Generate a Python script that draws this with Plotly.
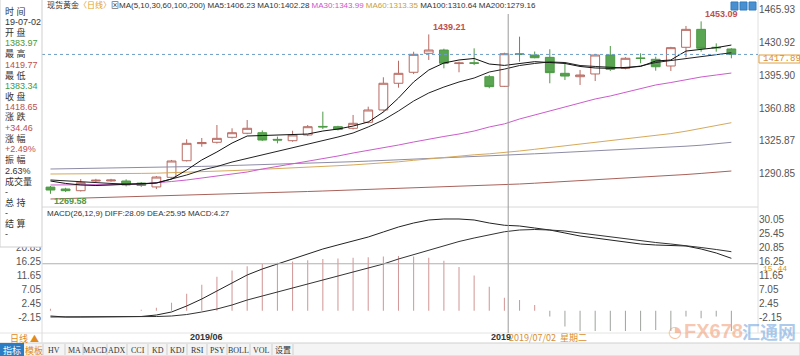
import plotly.graph_objects as go

# ---------------- data ----------------
dates = ["2019-05-21","2019-05-22","2019-05-23","2019-05-24","2019-05-27","2019-05-28","2019-05-29","2019-05-30","2019-05-31",
         "2019-06-03","2019-06-04","2019-06-05","2019-06-06","2019-06-07","2019-06-10","2019-06-11","2019-06-12","2019-06-13",
         "2019-06-14","2019-06-17","2019-06-18","2019-06-19","2019-06-20","2019-06-21","2019-06-24","2019-06-25","2019-06-26",
         "2019-06-27","2019-06-28","2019-07-01","2019-07-02","2019-07-03","2019-07-04","2019-07-05","2019-07-08","2019-07-09",
         "2019-07-10","2019-07-11","2019-07-12","2019-07-15","2019-07-16","2019-07-17","2019-07-18","2019-07-19","2019-07-22",
         "2019-07-23"]
open_ = [1276.7,1274.7,1272.9,1283.2,1283.3,1283.2,1281.0,1276.9,1287.1,1304.8,1323.0,1324.4,1329.7,1334.0,1334.6,1327.5,
         1326.1,1332.2,1341.3,1341.0,1339.3,1345.7,1358.8,1387.2,1398.9,1419.1,1422.6,1408.2,1409.0,1394.2,1383.97,1418.5,
         1417.3,1414.8,1397.8,1394.2,1397.1,1417.3,1403.1,1414.2,1412.7,1405.6,1425.5,1444.6,1425.5,1423.7]
high = [1277.9,1276.0,1285.3,1285.5,1285.5,1285.0,1282.0,1288.5,1305.6,1327.6,1329.0,1342.8,1339.3,1348.1,1337.0,1330.4,
        1336.7,1342.8,1357.0,1342.0,1353.5,1362.3,1393.6,1411.2,1420.8,1439.21,1424.0,1410.2,1424.4,1396.0,1419.77,1436.8,
        1421.0,1423.4,1408.5,1401.4,1418.5,1426.9,1415.0,1419.1,1415.5,1426.0,1448.2,1453.09,1429.7,1424.5]
low = [1269.58,1271.5,1272.0,1282.0,1282.5,1277.5,1277.0,1274.7,1286.0,1304.0,1319.7,1323.0,1328.5,1333.0,1325.8,1323.3,
       1325.0,1331.0,1338.5,1337.0,1338.0,1344.5,1357.0,1382.5,1397.0,1412.0,1403.1,1398.9,1406.6,1381.9,1383.34,1410.2,
       1413.8,1387.2,1390.7,1385.4,1389.6,1400.3,1402.0,1408.5,1400.6,1400.3,1414.8,1420.8,1420.8,1413.8]
close = [1273.6,1272.9,1281.4,1284.0,1284.2,1279.0,1278.6,1287.4,1304.5,1323.3,1324.0,1328.6,1334.6,1339.3,1326.8,1326.8,
         1332.2,1341.0,1340.8,1338.2,1344.6,1358.8,1387.2,1397.8,1418.0,1422.6,1408.5,1408.8,1408.5,1383.6,1418.65,1418.0,
         1414.4,1398.5,1394.9,1396.0,1417.3,1402.1,1413.8,1413.6,1404.8,1425.1,1444.6,1424.4,1425.0,1417.89]

ma5 = [1283.2,1280.6,1279.0,1278.4,1279.0,1279.5,1280.0,1281.1,1285.3,1294.9,1305.6,1314.1,1323.6,1331.1,1331.6,1332.2,
       1332.7,1333.2,1336.4,1338.5,1341.7,1346.0,1356.6,1371.5,1388.6,1401.3,1408.8,1412.0,1413.6,1407.7,1406.23,1408.5,
       1410.2,1409.3,1408.3,1405.1,1403.5,1403.1,1404.0,1405.1,1410.9,1412.0,1421.5,1423.4,1425.1,1427.9]
ma10 = [1284.3,1283.2,1282.1,1281.1,1280.6,1280.0,1280.0,1281.1,1285.3,1289.6,1294.9,1298.6,1303.4,1307.1,1310.9,1314.6,
        1318.3,1322.6,1326.3,1330.0,1334.3,1340.7,1348.1,1357.7,1368.3,1376.9,1383.2,1388.6,1392.8,1399.2,1402.28,1406.1,
        1408.3,1409.9,1409.3,1406.1,1405.1,1404.0,1403.4,1405.6,1409.3,1411.4,1413.6,1415.2,1417.3,1419.7]
ma30 = [1278.96,1278.96,1278.96,1278.96,1279.17,1279.49,1280.02,1281.08,1282.68,1284.27,1286.40,1288.53,1290.66,1292.79,
        1295.98,1298.64,1301.30,1304.49,1307.15,1309.82,1313.0,1315.7,1318.9,1321.5,1324.7,1327.9,1330.6,1333.2,1336.4,
        1340.7,1343.99,1349.2,1353.4,1357.7,1361.9,1366.2,1370.5,1373.7,1377.4,1381.1,1385.4,1388.0,1391.2,1393.9,1396.0,1398.1]
ma60 = [1290.66,1290.66,1290.66,1290.87,1291.08,1291.19,1291.30,1291.51,1291.94,1292.47,1293.0,1293.64,1294.28,1294.92,
        1295.55,1296.19,1296.94,1297.79,1298.64,1299.49,1300.34,1301.30,1302.37,1303.64,1305.24,1306.83,1308.43,1309.81,
        1311.09,1312.16,1313.35,1315.14,1316.94,1318.75,1320.46,1322.16,1323.86,1325.67,1327.48,1329.40,1331.42,1333.65,
        1336.21,1338.97,1341.95,1345.25]
ma100 = [1295.98,1296.19,1296.40,1296.62,1296.83,1297.04,1297.36,1297.68,1298.0,1298.32,1298.75,1299.17,1299.60,1300.02,
         1300.45,1300.98,1301.51,1302.05,1302.58,1303.11,1303.75,1304.39,1305.03,1305.77,1306.52,1307.26,1308.11,1308.86,
         1309.60,1310.14,1310.64,1311.41,1312.15,1312.90,1313.64,1314.39,1315.13,1315.88,1316.73,1317.58,1318.43,1319.28,
         1320.24,1321.30,1322.69,1324.39]
ma200 = [1264.05,1264.48,1264.90,1265.33,1265.75,1266.18,1266.60,1267.03,1267.45,1267.88,1268.31,1268.84,1269.37,1269.90,
         1270.44,1270.97,1271.50,1272.03,1272.57,1273.10,1273.63,1274.16,1274.70,1275.23,1275.76,1276.40,1277.04,1277.68,
         1278.21,1278.74,1279.16,1280.01,1280.86,1281.72,1282.57,1283.42,1284.27,1285.12,1285.98,1286.93,1287.89,1288.95,
         1290.12,1291.29,1292.57,1293.85]

diff = [-1.73,-2.06,-2.06,-2.06,-2.06,-2.06,-1.89,-1.40,-0.41,1.56,3.86,6.49,9.12,11.75,13.72,15.36,17.00,18.65,20.29,
        21.62,22.92,24.23,25.88,27.52,28.83,29.82,30.15,30.15,29.82,28.83,28.09,27.85,27.19,26.53,25.55,24.56,23.90,23.25,
        22.59,21.93,21.60,21.44,21.27,20.29,18.97,17.23]
dea = [-2.06,-2.06,-2.06,-2.06,-2.06,-2.06,-2.06,-1.90,-1.73,-1.24,-0.41,0.57,1.89,3.53,4.84,6.16,7.47,8.79,10.10,11.42,
       12.73,14.05,15.36,17.00,18.48,19.96,21.44,22.75,23.90,24.89,25.95,26.53,26.70,26.53,26.20,25.55,24.89,24.23,23.57,
       22.92,22.42,21.93,21.44,20.78,20.12,19.40]
macd = [0.66,0.0,0.0,0.0,0.0,0.0,0.34,1.0,2.64,5.6,8.54,11.2,13.2,14.6,15.4,15.8,16.2,16.6,17.0,17.2,17.4,17.6,
        17.8,18.0,17.8,17.4,16.4,14.4,11.6,7.88,4.27,3.5,1.9,-1.9,-5.2,-7.0,-7.0,-7.0,-7.0,-7.0,-6.3,-7.0,-1.9,
        -2.5,-1.9,-7.0]

price_ticks = [1465.93, 1430.92, 1395.90, 1360.88, 1325.87, 1290.85]
macd_ticks = [30.05, 25.45, 20.85, 16.25, 11.65, 7.05, 2.45, -2.15]
last_price = 1417.89
cursor_macd = 15.44

# ---------------- figure ----------------
W, H = 800, 356
ML, MR, MT, MB = 42, 42, 3, 23
PW, PH = W - ML - MR, H - MT - MB

def px(x):  # pixel x -> paper
    return (x - ML) / PW

def py(y):  # pixel y -> paper
    return (H - MB - y) / PH

fig = go.Figure()

sans = "Liberation Sans, Noto Sans CJK SC, sans-serif"
cjk = "Noto Sans CJK SC, DejaVu Sans, sans-serif"

ma_specs = [(ma200, "#a8625a"), (ma100, "#8d8ca6"), (ma60, "#d6a95a"), (ma30, "#cc5ccc"),
            (ma10, "#222222"), (ma5, "#111111")]
for vals, col in ma_specs:
    fig.add_trace(go.Scatter(x=dates, y=vals, mode="lines", line=dict(color=col, width=1),
                             xaxis="x", yaxis="y", hoverinfo="skip", showlegend=False))

fig.add_trace(go.Candlestick(
    x=dates, open=open_, high=high, low=low, close=close,
    increasing=dict(line=dict(color="#b86a62", width=1), fillcolor="#ffffff"),
    decreasing=dict(line=dict(color="#4e9a46", width=1), fillcolor="#5aa552"),
    whiskerwidth=0, xaxis="x", yaxis="y", showlegend=False, hoverinfo="skip"))

bar_cols = ["#d49a9a" if v >= 0 else "#a3a8a3" for v in macd]
fig.add_trace(go.Bar(x=dates, y=macd, width=0.07, marker=dict(color=bar_cols, line=dict(width=0)),
                     xaxis="x2", yaxis="y2", showlegend=False, hoverinfo="skip"))
fig.add_trace(go.Scatter(x=dates, y=diff, mode="lines", line=dict(color="#222222", width=1),
                         xaxis="x2", yaxis="y2", showlegend=False, hoverinfo="skip"))
fig.add_trace(go.Scatter(x=dates, y=dea, mode="lines", line=dict(color="#333333", width=1),
                         xaxis="x2", yaxis="y2", showlegend=False, hoverinfo="skip"))
fig.add_trace(go.Scatter(x=dates[:1], y=[macd_ticks[0]], mode="markers", marker=dict(opacity=0),
                         xaxis="x2", yaxis="y3", showlegend=False, hoverinfo="skip"))

xr = [-0.56, 46.76]
main_dom = [py(207), py(3)]
macd_dom = [py(331), py(208)]
p_lo, p_hi = 1475.83 - 1.0642 * 207, 1475.83 - 1.0642 * 3
m_lo, m_hi = 102.11 - 0.3286 * 331, 102.11 - 0.3286 * 208

axfont = dict(family="Liberation Sans, Arial, sans-serif", size=10, color="#555555")
fig.update_layout(
    width=W, height=H, margin=dict(l=ML, r=MR, t=MT, b=MB),
    paper_bgcolor="white", plot_bgcolor="white", boxgap=0.17,
    xaxis=dict(type="category", range=xr, domain=[0, 1], anchor="y", showticklabels=False,
               showgrid=False, zeroline=False, rangeslider=dict(visible=False), fixedrange=True),
    xaxis2=dict(type="category", range=xr, domain=[0, 1], anchor="y2", showticklabels=False,
                showgrid=False, zeroline=False, matches="x"),
    yaxis=dict(domain=main_dom, range=[p_lo, p_hi], side="right", tickvals=price_ticks,
               ticktext=[f"{v:.2f}" for v in price_ticks], showgrid=False, zeroline=False,
               tickfont=axfont, ticks="", anchor="x"),
    yaxis2=dict(domain=macd_dom, range=[m_lo, m_hi], side="right", tickvals=macd_ticks,
                ticktext=[f"{v:.2f}" for v in macd_ticks], showgrid=False, zeroline=False,
                tickfont=axfont, ticks="", anchor="x2"),
    yaxis3=dict(domain=macd_dom, range=[m_lo, m_hi], side="left", overlaying="y2", tickvals=macd_ticks,
                ticktext=[f"{v:.2f}" for v in macd_ticks], showgrid=False, zeroline=False,
                tickfont=axfont, ticks="", anchor="x2"),
)

shapes = []
shapes.append(dict(type="line", xref="paper", yref="paper", x0=0, x1=1, y0=py(207), y1=py(207),
                   line=dict(color="#d8d8d8", width=1)))
shapes.append(dict(type="line", xref="paper", yref="paper", x0=1, x1=1, y0=py(333), y1=py(0),
                   line=dict(color="#e0e0e0", width=1)))
shapes.append(dict(type="line", xref="paper", yref="paper", x0=px(0), x1=px(800), y0=py(333), y1=py(333),
                   line=dict(color="#e4e4e4", width=1)))
shapes.append(dict(type="line", xref="paper", yref="y", x0=0, x1=1, y0=last_price, y1=last_price,
                   line=dict(color="#6f9fc6", width=1, dash="dot")))
shapes.append(dict(type="line", xref="x", yref="paper", x0=30.25, x1=30.25, y0=py(333), y1=py(14),
                   line=dict(color="#9a9a9a", width=1)))
shapes.append(dict(type="line", xref="paper", yref="y2", x0=0, x1=1, y0=cursor_macd, y1=cursor_macd,
                   line=dict(color="#b0b0b0", width=1)))
shapes.append(dict(type="rect", xref="paper", yref="paper", x0=px(759), x1=px(800), y0=py(63), y1=py(55),
                   line=dict(color="#e0a040", width=1), fillcolor="white"))
shapes.append(dict(type="rect", xref="paper", yref="paper", x0=px(0), x1=px(42), y0=py(247), y1=py(-2),
                   line=dict(color="#cfcfcf", width=1), fillcolor="white", layer="above"))
for i in range(3):
    shapes.append(dict(type="rect", xref="paper", yref="paper", x0=px(731 + i * 9), x1=px(738 + i * 9),
                       y0=py(10), y1=py(2), line=dict(color="#2f7ac0", width=1), fillcolor="#4a90d0"))
shapes.append(dict(type="rect", xref="paper", yref="paper", x0=px(0), x1=px(800), y0=py(356), y1=py(343),
                   line=dict(color="#d0d0d0", width=1), fillcolor="#f4f4f4"))
shapes.append(dict(type="rect", xref="paper", yref="paper", x0=px(0), x1=px(24), y0=py(356), y1=py(343),
                   line=dict(width=0), fillcolor="#2b7cc2"))
seps = [43, 65, 83, 107, 127, 148, 167, 187, 207, 227, 250, 272, 293]
for s in seps:
    shapes.append(dict(type="line", xref="paper", yref="paper", x0=px(s), x1=px(s), y0=py(355), y1=py(344),
                       line=dict(color="#cfcfcf", width=1)))
shapes.append(dict(type="line", xref="paper", yref="paper", x0=px(42), x1=px(42), y0=py(343), y1=py(247),
                   line=dict(color="#dcdcdc", width=1)))
fig.update_layout(shapes=shapes)

ann = []
def text(x, y, t, color="#333333", size=9, family=sans, xanchor="left", yanchor="middle", bold=False):
    if bold:
        t = f"<b>{t}</b>"
    ann.append(dict(xref="paper", yref="paper", x=px(x), y=py(y), text=t, showarrow=False,
                    xanchor=xanchor, yanchor=yanchor, font=dict(family=family, size=size, color=color)))

title = ("现货黄金<span style='color:#e0a030'>〈日线〉</span>⊠MA(5,10,30,60,100,200) MA5:1406.23 MA10:1402.28 "
         "<span style='color:#cc55cc'>MA30:1343.99</span> <span style='color:#c8a040'>MA60:1313.35</span> "
         "MA100:1310.64 MA200:1279.16")
text(45, 5, title, size=8, family="Liberation Sans, Noto Sans CJK SC, sans-serif")
text(45, 213, "MACD(26,12,9) DIFF:28.09 DEA:25.95 MACD:4.27", size=8)

info = [("时 间", "#333"), ("19-07-02", "#333"), ("开 盘", "#333"), ("1383.97", "#3f9a3f"),
        ("最 高", "#333"), ("1419.77", "#c0504d"), ("最 低", "#333"), ("1383.34", "#3f9a3f"),
        ("收 盘", "#333"), ("1418.65", "#c0504d"), ("涨 跌", "#333"), ("+34.46", "#c0504d"),
        ("涨 幅", "#333"), ("+2.49%", "#c0504d"), ("振 幅", "#333"), ("2.63%", "#333"),
        ("成交量", "#333"), ("-", "#333"), ("总 持", "#333"), ("-", "#333"), ("结 算", "#333"), ("-", "#333")]
for i, (t, c) in enumerate(info):
    text(3, 11.5 + i * 10.6, t, color=c, size=9)

fig.add_annotation(x=dates[25], y=high[25], xref="x", yref="y", text="<b>1439.21</b>", showarrow=False,
                   xanchor="left", yanchor="bottom", xshift=2, font=dict(size=9, color="#c0504d", family="Liberation Sans"))
fig.add_annotation(x=dates[43], y=high[43], xref="x", yref="y", text="<b>1453.09</b>", showarrow=False,
                   xanchor="left", yanchor="bottom", xshift=2, font=dict(size=9, color="#c0504d", family="Liberation Sans"))
fig.add_annotation(x=dates[0], y=low[0], xref="x", yref="y", text="<b>1269.58</b>", showarrow=False,
                   xanchor="left", yanchor="top", xshift=2, font=dict(size=9, color="#4e9a46", family="Liberation Sans"))

text(761, 59, f"{last_price:.2f}", color="#d89030", size=9, family="Liberation Mono")
text(761, 268, f"{cursor_macd:.2f}", color="#d89030", size=8, family="Liberation Mono")

text(188, 337, "2019/06", color="#333", size=9, bold=True)
text(489, 337, "2019", color="#333", size=9, bold=True)
text(507, 337, "2019/07/02  星期二", color="#d89030", size=9, family=cjk)
text(8, 338, "日线 ▲", color="#e08a20", size=9, family=cjk)

text(12, 350, "指标", color="white", size=9, family=cjk, xanchor="center")
text(34, 350, "模板", color="#e08a20", size=9, family=cjk, xanchor="center")
labels = ["HV", "MA", "MACD", "ADX", "CCI", "KD", "KDJ", "RSI", "PSY", "BOLL", "VOL", "设置"]
for i, lab in enumerate(labels):
    cx = (seps[i] + seps[i + 1]) / 2
    text(cx, 350, lab, color="#333", size=8, family="Liberation Serif, Noto Sans CJK SC", xanchor="center")

text(666, 331, "◔", color="rgba(235,140,90,0.55)", size=16, family="DejaVu Sans")
text(682, 331, "<b>FX678</b>", color="rgba(240,150,110,0.55)", size=20, family="Liberation Sans")
text(740, 331, "<b>汇通网</b>", color="rgba(90,150,215,0.5)", size=18, family=cjk)

fig.update_layout(annotations=list(fig.layout.annotations) + ann)
fig.write_html("out.html", config={"displayModeBar": False, "staticPlot": True},
               post_script="document.body.style.margin='0px';document.body.style.overflow='hidden';")
